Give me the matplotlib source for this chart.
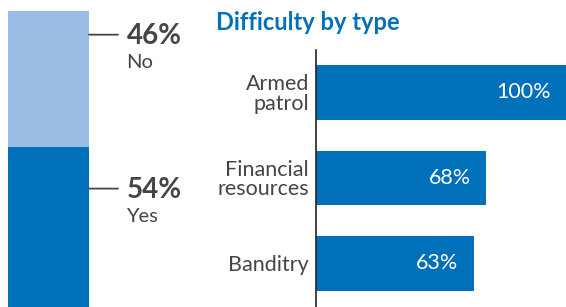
import matplotlib.pyplot as plt

plt.rcParams['font.family'] = ['Lato', 'DejaVu Sans']

# ========== Data ==========
answers = ["Yes", "No"]
answer_pct = [54, 46]
types = ["Armed\npatrol", "Financial\nresources", "Banditry"]
type_pct = [100, 68, 63]

DARK = "#0070ba"
LIGHT = "#9bbce3"
GRAY = "#454545"

W, H = 566, 307
fig = plt.figure(figsize=(W / 100, H / 100), dpi=100)

# ========== Left: stacked yes/no bar ==========
ax1 = fig.add_axes([8 / W, 0, 81 / W, (H - 11) / H])
bottom = 0
tops = []
for pct, col in zip(answer_pct, [DARK, LIGHT]):
    ax1.bar(0, pct, bottom=bottom, width=1, color=col, linewidth=0)
    bottom += pct
    tops.append(bottom)
ax1.set_xlim(-0.5, 0.5)
ax1.set_ylim(0, 100)
ax1.axis("off")

# label anchor offsets below each segment's top (in %)
offsets = [14, 8]
for lab, pct, top, off in zip(answers, answer_pct, tops, offsets):
    y = top - off
    ax1.annotate("", xy=(0.5, y), xytext=(0.5 + 29 / 81, y),
                 xycoords="data", textcoords="data",
                 arrowprops=dict(arrowstyle="-", color=GRAY, lw=1.3,
                                 shrinkA=0, shrinkB=0), annotation_clip=False)
    ax1.annotate(f"{pct}%", xy=(0.5, y), xytext=(27, -1), textcoords="offset points",
                 fontsize=20, fontweight="bold", color=GRAY, va="center", ha="left",
                 annotation_clip=False)
    ax1.annotate(lab, xy=(0.5, y), xytext=(27, -20), textcoords="offset points",
                 fontsize=14.5, color=GRAY, va="center", ha="left",
                 annotation_clip=False)

# ========== Right: difficulty by type ==========
ax2 = fig.add_axes([316 / W, 0, 250 / W, (H - 50) / H])
ypos = list(range(len(types)))
ax2.barh(ypos, type_pct, height=0.643, color=DARK, linewidth=0)
ax2.set_xlim(0, 100)
ax2.set_ylim(2.509, -0.497)
ax2.set_yticks(ypos)
ax2.set_yticklabels(types, fontsize=15.5, color=GRAY, multialignment="right",
                    linespacing=0.95)
ax2.tick_params(axis="y", length=0, pad=5)
ax2.set_xticks([])
for s in ["top", "right", "bottom"]:
    ax2.spines[s].set_visible(False)
ax2.spines["left"].set_color("#222222")
ax2.spines["left"].set_linewidth(1.2)

for y, v in zip(ypos, type_pct):
    ax2.annotate(f"{v}%", xy=(v, y), xytext=(-11, 0), textcoords="offset points",
                 ha="right", va="center", fontsize=15.5, color="white")

fig.text(216 / W, 1 - 30 / H, "Difficulty by type", fontsize=17,
         fontweight="bold", color=DARK, ha="left", va="baseline")

fig.savefig("out.png", dpi=100)
